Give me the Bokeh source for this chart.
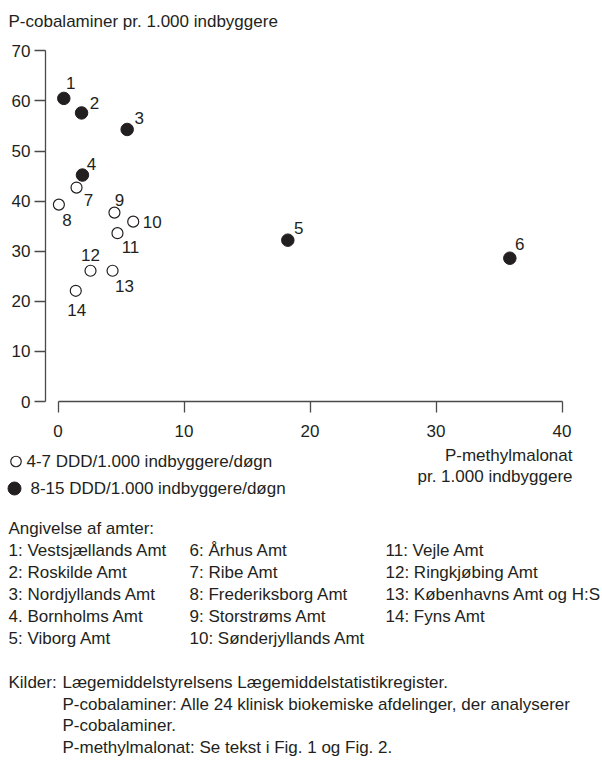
from bokeh.plotting import figure
from bokeh.models import ColumnDataSource, FixedTicker, Range1d, LinearAxis
from bokeh.layouts import column
from bokeh.embed import file_html
from bokeh.resources import INLINE
from bokeh.core.properties import value

# ---------------- data ----------------
county_ids = ["1", "2", "3", "4", "5", "6", "7", "8", "9", "10", "11", "12", "13", "14"]
methylmalonat = [0.46, 1.87, 5.49, 1.94, 18.24, 35.86, 1.47, 0.07, 4.48, 5.97, 4.72, 2.58, 4.33, 1.41]
cobalaminer = [60.5, 57.6, 54.3, 45.2, 32.2, 28.6, 42.7, 39.3, 37.7, 35.9, 33.6, 26.1, 26.1, 22.1]
ddd_group = ["8-15"] * 6 + ["4-7"] * 8
x_ticks = [0, 10, 20, 30, 40]
y_ticks = [0, 10, 20, 30, 40, 50, 60, 70]

y_title = "P-cobalaminer  pr.  1.000 indbyggere"
x_title = ["P-methylmalonat", "pr. 1.000 indbyggere"]
legend_labels = ["4-7  DDD/1.000 indbyggere/døgn", "8-15  DDD/1.000 indbyggere/døgn"]
county_heading = "Angivelse af amter:"
county_names = ["1: Vestsjællands Amt", "2: Roskilde Amt", "3: Nordjyllands Amt",
                "4. Bornholms Amt", "5: Viborg Amt", "6: Århus Amt", "7: Ribe Amt",
                "8: Frederiksborg Amt", "9: Storstrøms Amt", "10: Sønderjyllands Amt",
                "11: Vejle Amt", "12: Ringkjøbing Amt", "13: Københavns Amt og H:S",
                "14: Fyns Amt"]
source_head = "Kilder:"
source_lines = ["Lægemiddelstyrelsens Lægemiddelstatistikregister.",
                "P-cobalaminer: Alle 24 klinisk biokemiske afdelinger, der analyserer",
                "P-cobalaminer.",
                "P-methylmalonat: Se tekst i Fig. 1 og Fig. 2."]

# label offsets (screen px) for the county numbers
label_dx = [7, 13, 12, 9, 11, 10, 12, 8, 5, 19, 13, 0, 12, 1]
label_dy = [-15, -10, -11, -11, -12, -14, 12, 15, -13, 0, 14, -16, 15, 19]

# ---------------- styling ----------------
INK = "#231f20"
AXIS = "#4a4a4a"
FONT = "Liberation Sans"
W = 602
H1 = 445
H2 = 319

# scale: page px -> data
PX_X0, PX_PER_X = 57.5, 12.6      # page x of x=0, px per unit
PX_Y0, PX_PER_Y = 401.0, 5.01     # page y of y=0, px per unit

def dx(page_x):
    return (page_x - PX_X0) / PX_PER_X

def dy(page_y):
    return (PX_Y0 - page_y) / PX_PER_Y

p = figure(width=W, height=H1, output_backend="svg", toolbar_location=None,
           x_range=Range1d(dx(0), dx(W)), y_range=Range1d(dy(H1), dy(0)),
           x_axis_type=None, y_axis_type=None, min_border=0)
p.outline_line_color = None
p.background_fill_color = "white"
p.border_fill_color = "white"

def style_axis(ax):
    ax.axis_line_color = AXIS
    ax.axis_line_width = 1.3
    ax.major_tick_line_color = AXIS
    ax.major_tick_line_width = 1.3
    ax.major_tick_in = 0
    ax.major_tick_out = 11
    ax.minor_tick_line_color = None
    ax.major_label_text_font = FONT
    ax.major_label_text_font_size = "17px"
    ax.major_label_text_color = INK

xaxis = LinearAxis(fixed_location=0, bounds=(x_ticks[0], x_ticks[-1]),
                   ticker=FixedTicker(ticks=x_ticks))
style_axis(xaxis)
xaxis.major_label_standoff = 12
p.add_layout(xaxis, "below")

yaxis = LinearAxis(fixed_location=dx(45), bounds=(y_ticks[0], y_ticks[-1]),
                   ticker=FixedTicker(ticks=y_ticks))
style_axis(yaxis)
yaxis.major_label_standoff = 4
p.add_layout(yaxis, "left")

src = ColumnDataSource(dict(x=methylmalonat, y=cobalaminer, label=county_ids,
                            grp=ddd_group, ox=label_dx, oy=label_dy))
filled = ColumnDataSource(dict(
    x=[v for v, g in zip(methylmalonat, ddd_group) if g == "8-15"],
    y=[v for v, g in zip(cobalaminer, ddd_group) if g == "8-15"]))
hollow = ColumnDataSource(dict(
    x=[v for v, g in zip(methylmalonat, ddd_group) if g == "4-7"],
    y=[v for v, g in zip(cobalaminer, ddd_group) if g == "4-7"]))

p.scatter("x", "y", source=hollow, size=11, marker="circle",
          fill_color="white", line_color=INK, line_width=1.2)
p.scatter("x", "y", source=filled, size=12.5, marker="circle",
          fill_color=INK, line_color=INK, line_width=1)
p.text("x", "y", text="label", source=src, x_offset="ox", y_offset="oy",
       text_align="center", text_baseline="middle", text_font=value(FONT),
       text_font_size="17px", text_color=INK)

# y-axis title at top-left
p.text(x=[dx(8)], y=[dy(21)], text=[y_title], text_align="left", text_baseline="middle",
       text_font=value(FONT), text_font_size="17px", text_color=INK)

# ---------------- lower panel (legend + notes) ----------------
TOP = H1  # page y of this panel's top
q = figure(width=W, height=H2, output_backend="svg", toolbar_location=None,
           x_range=Range1d(0, W), y_range=Range1d(H2, 0),
           x_axis_type=None, y_axis_type=None, min_border=0)
q.outline_line_color = None
q.grid.visible = False

T = dict(text_font=value(FONT), text_font_size="17px", text_color=INK,
         text_baseline="middle")

def py(page_y):
    return page_y - TOP

# legend markers
q.scatter(x=[15.5], y=[py(461)], size=10.5, marker="circle", fill_color="white",
          line_color=INK, line_width=1.2)
q.scatter(x=[14], y=[py(488)], size=13, marker="circle", fill_color=INK, line_color=INK)
q.text(x=[26, 30], y=[py(461), py(488)], text=legend_labels, text_align="left", **T)

# x-axis title (right aligned)
q.text(x=[572, 572], y=[py(455), py(476)], text=x_title, text_align="right", **T)

# county list
q.text(x=[8], y=[py(528)], text=[county_heading], text_align="left", **T)
col_x = [8, 189, 385]
row_y = [py(550), py(572), py(594), py(616), py(638)]
cx, cy = [], []
for i, name in enumerate(county_names):
    c, r = divmod(i, 5)
    cx.append(col_x[c])
    cy.append(row_y[r])
q.text(x=cx, y=cy, text=county_names, text_align="left", **T)

# sources
src_y = [py(682), py(703.5), py(725), py(746.5)]
q.text(x=[8], y=[src_y[0]], text=[source_head], text_align="left", **T)
q.text(x=[62] * 4, y=src_y, text=source_lines, text_align="left", **T)

layout = column(p, q, spacing=0)
open("out.html", "w").write(file_html(layout, INLINE))
